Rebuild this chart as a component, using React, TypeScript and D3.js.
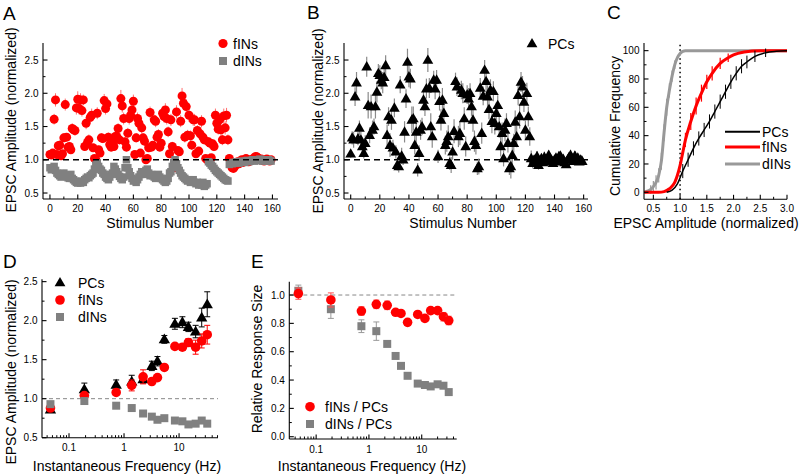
import React from "react";
import * as d3 from "d3";

const FONT = "'Liberation Sans', Arial, Helvetica, sans-serif";
const RED = "#ff0000";
const GRAY = "#808080";

// ---------- Panels A & B : stimulus series ----------
const stimulusNumber = d3.range(160);

const fINsA = [
  1.08, 1.07, 1.10, 1.61, 1.90, 1.08, 1.21, 1.22, 1.06, 1.09,
  1.33, 1.83, 1.34, 1.19, 1.20, 1.15, 1.47, 1.45, 1.44, 1.78,
  1.91, 1.77, 1.90, 1.74, 1.90, 1.20, 1.55, 1.26, 1.30, 1.64,
  1.67, 1.18, 1.02, 1.00, 1.70, 1.15, 1.10, 1.33, 1.32, 1.89,
  1.77, 1.84, 1.34, 1.23, 1.19, 1.25, 1.20, 1.35, 1.35, 1.47,
  1.30, 1.92, 1.81, 1.62, 1.27, 1.19, 1.40, 1.62, 1.67, 1.75,
  1.88, 1.08, 1.33, 1.62, 1.55, 1.10, 1.48, 1.33, 1.28, 1.00,
  1.02, 1.18, 1.71, 1.19, 1.22, 1.60, 1.58, 1.34, 1.38, 1.19,
  1.25, 1.70, 1.65, 1.75, 1.62, 1.42, 1.09, 1.60, 1.20, 0.90,
  0.88, 1.72, 1.14, 1.12, 1.58, 1.96, 1.85, 1.34, 1.80, 1.37,
  1.67, 1.36, 1.22, 1.60, 1.60, 1.09, 1.44, 1.13, 1.39, 1.58,
  1.34, 1.30, 1.02, 1.00, 1.27, 1.25, 1.03, 1.24, 1.20, 1.67,
  1.55, 1.46, 1.60, 1.45, 1.30, 1.66, 1.48, 1.67, 1.30, 1.02,
  0.93, 0.88, 0.87, 0.90, 0.95, 0.97, 0.94, 0.98, 1.00, 0.96,
  0.99, 1.02, 0.98, 0.97, 1.00, 0.99, 1.01, 1.03, 1.05, 1.04,
  1.02, 1.00, 1.01, 0.99, 0.98, 1.00, 1.01, 0.99, 0.98, 1.00,
];
const fINsAErr = [
  0.05, 0.04, 0.06, 0.08, 0.10, 0.05, 0.06, 0.07, 0.05, 0.05,
  0.07, 0.09, 0.06, 0.06, 0.07, 0.06, 0.08, 0.07, 0.08, 0.10,
  0.12, 0.09, 0.10, 0.09, 0.08, 0.06, 0.09, 0.07, 0.08, 0.09,
  0.10, 0.06, 0.05, 0.05, 0.09, 0.06, 0.05, 0.07, 0.07, 0.10,
  0.09, 0.11, 0.07, 0.06, 0.06, 0.07, 0.06, 0.08, 0.07, 0.08,
  0.07, 0.13, 0.10, 0.09, 0.07, 0.06, 0.08, 0.09, 0.10, 0.09,
  0.10, 0.05, 0.07, 0.09, 0.08, 0.05, 0.08, 0.07, 0.07, 0.05,
  0.05, 0.06, 0.09, 0.06, 0.06, 0.08, 0.09, 0.07, 0.08, 0.06,
  0.07, 0.10, 0.09, 0.10, 0.09, 0.08, 0.05, 0.09, 0.07, 0.05,
  0.05, 0.10, 0.06, 0.06, 0.09, 0.12, 0.10, 0.08, 0.11, 0.08,
  0.10, 0.08, 0.07, 0.09, 0.09, 0.05, 0.08, 0.06, 0.08, 0.09,
  0.08, 0.07, 0.05, 0.05, 0.07, 0.08, 0.05, 0.07, 0.07, 0.10,
  0.09, 0.08, 0.10, 0.09, 0.08, 0.11, 0.10, 0.11, 0.08, 0.06,
  0.05, 0.05, 0.04, 0.04, 0.05, 0.04, 0.04, 0.05, 0.04, 0.04,
  0.05, 0.04, 0.04, 0.05, 0.04, 0.04, 0.05, 0.04, 0.05, 0.04,
  0.04, 0.05, 0.04, 0.04, 0.05, 0.04, 0.04, 0.05, 0.04, 0.04,
];
const dINsA = [
  0.88, 0.85, 0.86, 0.90, 0.84, 0.80, 0.78, 0.76, 0.74, 0.78,
  0.80, 0.76, 0.75, 0.73, 0.72, 0.78, 0.72, 0.70, 0.68, 0.66,
  0.65, 0.67, 0.65, 0.68, 0.66, 0.70, 0.72, 0.74, 0.73, 0.76,
  0.78, 0.80, 0.86, 0.92, 0.95, 0.90, 0.86, 0.84, 0.80, 0.78,
  0.74, 0.72, 0.70, 0.74, 0.78, 0.80, 0.90, 0.86, 0.82, 0.78,
  0.75, 0.72, 0.70, 0.74, 0.88, 1.00, 0.88, 0.82, 0.76, 0.72,
  0.68, 0.70, 0.66, 0.70, 0.74, 0.78, 0.82, 0.80, 0.78, 0.84,
  0.86, 0.80, 0.76, 0.78, 0.76, 0.74, 0.72, 0.76, 0.78, 0.74,
  0.72, 0.70, 0.68, 0.66, 0.68, 0.72, 0.80, 0.82, 0.90, 0.96,
  1.00, 0.94, 0.88, 0.84, 0.80, 0.76, 0.74, 0.72, 0.70, 0.68,
  0.70, 0.66, 0.68, 0.70, 0.66, 0.64, 0.66, 0.62, 0.64, 0.62,
  0.66, 0.60, 0.62, 0.64, 0.97, 0.95, 0.92, 0.90, 0.87, 0.84,
  0.82, 0.80, 0.78, 0.76, 0.74, 0.72, 0.70, 0.69, 0.68, 0.93,
  0.95, 0.94, 0.96, 0.95, 0.97, 0.96, 0.95, 0.97, 0.98, 0.97,
  0.96, 0.98, 0.99, 0.97, 0.98, 0.99, 1.00, 0.98, 0.99, 1.00,
  0.99, 1.01, 0.99, 0.98, 1.00, 0.99, 0.98, 1.00, 0.99, 0.98,
];
const dINsAErr = [
  0.04, 0.04, 0.05, 0.04, 0.04, 0.05, 0.04, 0.05, 0.04, 0.04,
  0.05, 0.04, 0.05, 0.04, 0.05, 0.05, 0.04, 0.05, 0.05, 0.04,
  0.05, 0.04, 0.05, 0.05, 0.04, 0.05, 0.04, 0.05, 0.04, 0.05,
  0.04, 0.05, 0.05, 0.04, 0.05, 0.04, 0.05, 0.04, 0.05, 0.04,
  0.05, 0.04, 0.05, 0.04, 0.05, 0.04, 0.05, 0.04, 0.05, 0.05,
  0.04, 0.05, 0.04, 0.05, 0.05, 0.04, 0.05, 0.04, 0.05, 0.04,
  0.05, 0.04, 0.05, 0.05, 0.04, 0.05, 0.04, 0.05, 0.04, 0.05,
  0.04, 0.05, 0.04, 0.05, 0.04, 0.05, 0.05, 0.04, 0.05, 0.04,
  0.05, 0.04, 0.05, 0.04, 0.05, 0.05, 0.04, 0.05, 0.04, 0.05,
  0.04, 0.05, 0.04, 0.05, 0.04, 0.05, 0.04, 0.05, 0.05, 0.04,
  0.05, 0.04, 0.05, 0.04, 0.05, 0.04, 0.05, 0.05, 0.04, 0.05,
  0.04, 0.05, 0.05, 0.04, 0.05, 0.04, 0.05, 0.04, 0.05, 0.04,
  0.05, 0.04, 0.05, 0.04, 0.05, 0.05, 0.04, 0.05, 0.04, 0.04,
  0.03, 0.04, 0.03, 0.03, 0.04, 0.03, 0.03, 0.04, 0.03, 0.03,
  0.04, 0.03, 0.03, 0.04, 0.03, 0.03, 0.04, 0.03, 0.03, 0.04,
  0.03, 0.03, 0.04, 0.03, 0.03, 0.04, 0.03, 0.03, 0.04, 0.03,
];
const PCsB = [
  1.09, 1.33, 1.30, 1.95, 2.16, 1.32, 1.48, 1.30, 1.20, 1.10,
  1.25, 2.40, 1.82, 1.37, 1.80, 1.45, 1.50, 1.80, 2.02, 2.30,
  2.27, 2.20, 2.16, 2.24, 2.42, 1.37, 1.65, 1.22, 1.60, 1.18,
  1.78, 1.12, 0.92, 0.90, 2.13, 1.06, 1.00, 1.42, 1.92, 2.47,
  2.25, 2.22, 1.60, 1.62, 1.22, 1.42, 0.85, 1.10, 1.45, 1.50,
  1.90, 1.80, 2.07, 2.50, 2.08, 1.50, 1.35, 2.20, 2.07, 2.20,
  1.05, 1.88, 1.60, 1.90, 1.70, 1.22, 1.28, 1.35, 0.95, 0.92,
  1.12, 1.43, 2.18, 2.10, 1.35, 1.40, 2.05, 2.00, 1.62, 1.20,
  1.98, 1.92, 2.00, 1.80, 1.60, 1.28, 1.22, 0.87, 0.90, 2.08,
  1.40, 1.96, 2.35, 2.18, 1.95, 1.76, 2.05, 1.58, 2.03, 1.55,
  1.70, 1.82, 1.50, 1.20, 1.40, 1.02, 1.45, 1.55, 1.25, 0.87,
  0.90, 1.07, 1.25, 1.57, 1.35, 1.97, 1.65, 2.17, 2.10, 1.87,
  1.45, 2.00, 1.65, 1.35, 1.02, 0.95, 1.00, 0.97, 1.05, 0.92,
  0.98, 1.02, 0.96, 1.04, 1.00, 0.97, 1.07, 1.02, 0.99, 0.95,
  1.00, 1.03, 0.98, 1.05, 1.06, 0.97, 1.01, 0.96, 0.93, 1.00,
  1.04, 1.07, 1.02, 0.98, 1.06, 0.99, 1.03, 0.97, 1.00, 0.98,
];
const PCsBErr = [
  0.06, 0.10, 0.12, 0.14, 0.16, 0.10, 0.11, 0.12, 0.10, 0.08,
  0.12, 0.15, 0.20, 0.12, 0.18, 0.14, 0.12, 0.18, 0.16, 0.14,
  0.15, 0.14, 0.16, 0.13, 0.15, 0.16, 0.14, 0.18, 0.15, 0.12,
  0.14, 0.10, 0.08, 0.09, 0.13, 0.12, 0.08, 0.16, 0.14, 0.20,
  0.16, 0.15, 0.20, 0.18, 0.14, 0.20, 0.10, 0.12, 0.15, 0.13,
  0.16, 0.14, 0.15, 0.18, 0.15, 0.20, 0.17, 0.14, 0.16, 0.15,
  0.10, 0.14, 0.16, 0.18, 0.15, 0.14, 0.16, 0.17, 0.10, 0.12,
  0.12, 0.18, 0.13, 0.14, 0.16, 0.18, 0.14, 0.15, 0.17, 0.15,
  0.14, 0.16, 0.15, 0.14, 0.18, 0.16, 0.14, 0.10, 0.12, 0.15,
  0.16, 0.14, 0.15, 0.16, 0.17, 0.15, 0.16, 0.18, 0.15, 0.17,
  0.16, 0.15, 0.17, 0.15, 0.16, 0.12, 0.17, 0.15, 0.14, 0.10,
  0.18, 0.15, 0.14, 0.17, 0.16, 0.15, 0.18, 0.15, 0.16, 0.15,
  0.14, 0.16, 0.15, 0.14, 0.12, 0.08, 0.07, 0.06, 0.08, 0.07,
  0.06, 0.07, 0.05, 0.08, 0.06, 0.05, 0.07, 0.06, 0.05, 0.06,
  0.07, 0.06, 0.05, 0.07, 0.06, 0.05, 0.06, 0.07, 0.05, 0.06,
  0.06, 0.08, 0.05, 0.06, 0.07, 0.05, 0.06, 0.05, 0.07, 0.06,
];

// ---------- Panel C : cumulative distributions ----------
const cPCsX = [0.75, 0.85, 0.95, 1.05, 1.15, 1.25, 1.35, 1.45, 1.55, 1.65, 1.75, 1.85, 1.95, 2.05, 2.15, 2.25, 2.4, 2.6, 2.8, 3.0];
const cPCsY = [0, 1.5, 6, 15, 23, 31, 38, 44, 50, 57, 64, 71, 78, 84, 89, 92, 96, 98.5, 99.5, 100];
const cPCsErr = [0, 0, 0, 5, 5, 5, 5, 5, 5, 5, 5, 5, 5, 5, 5, 4.5, 4, 3, 0, 0];
const cFINsX = [0.33, 0.6, 0.7, 0.8, 0.9, 0.95, 1.0, 1.05, 1.1, 1.2, 1.3, 1.4, 1.5, 1.6, 1.75, 1.9, 2.0, 2.2, 2.5, 3.0];
const cFINsY = [0, 0, 0.5, 2.5, 7, 12, 19, 28, 37, 50, 61, 70, 78, 84, 91, 95, 97, 99, 100, 100];
const cFINsErr = [0, 0, 0, 0, 0, 0, 0, 0, 5, 6, 6, 6, 5, 5, 4, 3, 0, 0, 0, 0];
const cDINsX = [0.33, 0.4, 0.45, 0.5, 0.55, 0.6, 0.65, 0.7, 0.75, 0.8, 0.85, 0.9, 0.95, 1.0, 1.05, 1.1, 1.2, 3.0];
const cDINsY = [0, 1, 2, 4, 7, 12, 22, 42, 60, 72, 82, 90, 95, 98, 99.5, 100, 100, 100];
const cDINsErr = [0, 0, 3, 4, 5, 5, 6, 6, 6, 5, 4, 3, 0, 0, 0, 0, 0, 0];

// ---------- Panels D & E : instantaneous frequency ----------
const instFreq = [0.046, 0.19, 0.72, 1.38, 2.22, 3.2, 4.05, 5.4, 8.4, 11.5, 14.8, 20, 25.8, 32.5];
const dPCs = [0.86, 1.12, 1.18, 1.22, 1.25, 1.42, 1.48, 1.76, 1.96, 1.98, 1.92, 1.86, 2.04, 2.21];
const dPCsErr = [0.02, 0.08, 0.06, 0.08, 0.05, 0.06, 0.06, 0.05, 0.07, 0.07, 0.06, 0.08, 0.12, 0.16];
const dFINs = [0.88, 1.04, 1.08, 1.17, 1.28, 1.22, 1.27, 1.40, 1.67, 1.66, 1.72, 1.66, 1.74, 1.82];
const dFINsErr = [0.02, 0.03, 0.03, 0.07, 0.09, 0.03, 0.03, 0.03, 0.03, 0.04, 0.05, 0.09, 0.09, 0.12];
const dDINs = [0.93, 0.97, 0.91, 0.88, 0.81, 0.77, 0.73, 0.75, 0.72, 0.71, 0.67, 0.68, 0.72, 0.68];
const dDINsErr = [0.02, 0.02, 0.02, 0.02, 0.02, 0.02, 0.02, 0.02, 0.02, 0.02, 0.02, 0.02, 0.02, 0.02];
const eFINsPCs = [1.01, 0.965, 0.887, 0.934, 0.927, 0.878, 0.87, 0.807, 0.863, 0.835, 0.89, 0.89, 0.847, 0.82];
const eFINsPCsErr = [0.04, 0.05, 0.03, 0.03, 0.03, 0.02, 0.02, 0.015, 0.02, 0.02, 0.02, 0.02, 0.03, 0.03];
const eDINsPCs = [1.03, 0.90, 0.78, 0.745, 0.655, 0.57, 0.50, 0.43, 0.375, 0.365, 0.355, 0.37, 0.36, 0.315];
const eDINsPCsErr = [0.04, 0.065, 0.045, 0.065, 0.015, 0.015, 0.015, 0.01, 0.01, 0.01, 0.01, 0.01, 0.01, 0.01];

// ---------- tick labels ----------
const stimTicks = [0, 20, 40, 60, 80, 100, 120, 140, 160];
const stimMinor = [10, 30, 50, 70, 90, 110, 130, 150];
const ampTicks = [0.5, 1.0, 1.5, 2.0, 2.5];
const ampMinor = [0.75, 1.25, 1.75, 2.25];
const cumXTicks = [0.5, 1.0, 1.5, 2.0, 2.5, 3.0];
const cumXMinor = [0.75, 1.25, 1.75, 2.25, 2.75];
const cumYTicks = [0, 20, 40, 60, 80, 100];
const cumYMinor = [10, 30, 50, 70, 90];
const freqTicks = [0.1, 1, 10];
const freqTickLabels = ["0.1", "1", "10"];
const relTicks = [0.0, 0.2, 0.4, 0.6, 0.8, 1.0];
const relMinor = [0.1, 0.3, 0.5, 0.7, 0.9];

// ---------- scales ----------
const xA = d3.scaleLinear().domain([-5, 164]).range([43, 278]);
const yA = d3.scaleLinear().domain([0.41, 2.756]).range([199, 43]);
const xB = d3.scaleLinear().domain([-4.6, 163]).range([344, 588]);
const yB = d3.scaleLinear().domain([0.41, 2.756]).range([199, 43]);
const xC = d3.scaleLinear().domain([0.325, 3.0]).range([644, 787]);
const yC = d3.scaleLinear().domain([-4.94, 105.4]).range([199.3, 43]);
const xD = d3.scaleLog().domain([0.0323, 51]).range([42, 218]);
const yD = d3.scaleLinear().domain([0.5, 2.53]).range([437.7, 279.3]);
const xE = d3.scaleLog().domain([0.031, 46]).range([289.3, 456.7]);
const yE = d3.scaleLinear().domain([-0.016, 1.094]).range([439, 281.7]);

function logMinor(domain: number[]) {
  const out: number[] = [];
  [0.01, 0.1, 1, 10].forEach((dec) => {
    for (let k = 2; k <= 9; k++) {
      const v = k * dec;
      if (v >= domain[0] && v <= domain[1]) out.push(v);
    }
  });
  return out;
}

const TICK_FS = 10;

function AxisLeft({ scale, x, major, minor, fmt }: any) {
  const [y0, y1] = scale.range();
  return (
    <g>
      <line x1={x} x2={x} y1={y0} y2={y1} stroke="#000" strokeWidth={1.1} />
      {minor.map((v: number, i: number) => (
        <line key={"m" + i} x1={x} x2={x + 2.5} y1={scale(v)} y2={scale(v)} stroke="#000" strokeWidth={1} />
      ))}
      {major.map((v: number, i: number) => (
        <g key={i}>
          <line x1={x} x2={x + 4.5} y1={scale(v)} y2={scale(v)} stroke="#000" strokeWidth={1.1} />
          <text x={x - 4.5} y={scale(v)} dy="0.36em" textAnchor="end" fontSize={TICK_FS}>
            {fmt(v, i)}
          </text>
        </g>
      ))}
    </g>
  );
}

function AxisBottom({ scale, y, major, minor, fmt, labelDy = 13 }: any) {
  const [x0, x1] = scale.range();
  return (
    <g>
      <line x1={x0} x2={x1} y1={y} y2={y} stroke="#000" strokeWidth={1.1} />
      {minor.map((v: number, i: number) => (
        <line key={"m" + i} x1={scale(v)} x2={scale(v)} y1={y} y2={y - 2.5} stroke="#000" strokeWidth={1} />
      ))}
      {major.map((v: number, i: number) => (
        <g key={i}>
          <line x1={scale(v)} x2={scale(v)} y1={y} y2={y - 4.5} stroke="#000" strokeWidth={1.1} />
          <text x={scale(v)} y={y + labelDy} textAnchor="middle" fontSize={TICK_FS}>
            {fmt(v, i)}
          </text>
        </g>
      ))}
    </g>
  );
}

const tri = (cx: number, cy: number, s = 1) =>
  `M${cx},${cy - 5.6 * s}L${cx + 5.4 * s},${cy + 3.8 * s}L${cx - 5.4 * s},${cy + 3.8 * s}Z`;

function Circle({ cx, cy, r = 4.6, fill = RED }: any) {
  return <circle cx={cx} cy={cy} r={r} fill={fill} />;
}
function Square({ cx, cy, s = 8, fill = GRAY }: any) {
  return <rect x={cx - s / 2} y={cy - s / 2} width={s} height={s} fill={fill} />;
}

function ErrBar({ x, y1, y2, color, w = 1, cap = 0 }: any) {
  return (
    <g>
      <line x1={x} x2={x} y1={y1} y2={y2} stroke={color} strokeWidth={w} />
      {cap > 0 && (
        <>
          <line x1={x - cap} x2={x + cap} y1={y1} y2={y1} stroke={color} strokeWidth={w} />
          <line x1={x - cap} x2={x + cap} y1={y2} y2={y2} stroke={color} strokeWidth={w} />
        </>
      )}
    </g>
  );
}

const fmt1 = (v: number) => v.toFixed(1);
const fmt0 = (v: number) => String(v);

export default function App() {
  const lineC = (xs: number[], ys: number[]) =>
    d3
      .line<number>()
      .x((_, i) => xC(xs[i]))
      .y((_, i) => yC(ys[i]))
      .curve(d3.curveMonotoneX)(xs) as string;

  const dMinor = logMinor(xD.domain());
  const eMinor = logMinor(xE.domain());

  return (
    <svg
      width={800}
      height={475}
      style={{ position: "absolute", left: 0, top: 0, background: "#fff" }}
      fontFamily={FONT}
    >
      <rect x={0} y={0} width={800} height={475} fill="#fff" />

      {/* ================= Panel A ================= */}
      <text x={3} y={20} fontSize={19}>A</text>
      {stimulusNumber.map((s, i) => (
        <line key={"ae" + i} x1={xA(s)} x2={xA(s)} y1={yA(fINsA[i] - fINsAErr[i])} y2={yA(fINsA[i] + fINsAErr[i])} stroke="#ff7070" strokeWidth={1} />
      ))}
      {stimulusNumber.map((s, i) => (
        <Circle key={"ac" + i} cx={xA(s)} cy={yA(fINsA[i])} r={4.5} />
      ))}
      {stimulusNumber.map((s, i) => (
        <line key={"ade" + i} x1={xA(s)} x2={xA(s)} y1={yA(dINsA[i] - dINsAErr[i])} y2={yA(dINsA[i] + dINsAErr[i])} stroke="#a8a8a8" strokeWidth={1} />
      ))}
      {stimulusNumber.map((s, i) => (
        <Square key={"as" + i} cx={xA(s)} cy={yA(dINsA[i])} s={7.5} />
      ))}
      <line x1={43} x2={278} y1={yA(1)} y2={yA(1)} stroke="#000" strokeWidth={1.6} strokeDasharray="6,4" />
      <AxisLeft scale={yA} x={43} major={ampTicks} minor={ampMinor} fmt={fmt1} />
      <AxisBottom scale={xA} y={199} major={stimTicks} minor={stimMinor} fmt={fmt0} />
      <text x={160} y={228} textAnchor="middle" fontSize={14}>Stimulus Number</text>
      <text transform="translate(16,120) rotate(-90)" textAnchor="middle" fontSize={14}>EPSC Amplitude (normalized)</text>
      <Circle cx={223} cy={43.5} r={4.6} />
      <text x={233} y={43.5} dy="0.36em" fontSize={14}>fINs</text>
      <Square cx={223} cy={61} s={8} />
      <text x={233} y={61} dy="0.36em" fontSize={14}>dINs</text>

      {/* ================= Panel B ================= */}
      <text x={307} y={19} fontSize={19}>B</text>
      <line x1={344} x2={588} y1={yB(1)} y2={yB(1)} stroke="#000" strokeWidth={1.6} strokeDasharray="6,4" />
      {stimulusNumber.map((s, i) => (
        <line key={"be" + i} x1={xB(s)} x2={xB(s)} y1={yB(PCsB[i] - PCsBErr[i])} y2={yB(PCsB[i] + PCsBErr[i])} stroke="#8a8a8a" strokeWidth={1.2} />
      ))}
      {stimulusNumber.map((s, i) => (
        <path key={"bt" + i} d={tri(xB(s), yB(PCsB[i]))} fill="#000" />
      ))}
      <AxisLeft scale={yB} x={344} major={ampTicks} minor={ampMinor} fmt={fmt1} />
      <AxisBottom scale={xB} y={199} major={stimTicks} minor={stimMinor} fmt={fmt0} />
      <text x={463} y={228} textAnchor="middle" fontSize={14}>Stimulus Number</text>
      <text transform="translate(323,121) rotate(-90)" textAnchor="middle" fontSize={14}>EPSC Amplitude (normalized)</text>
      <path d={tri(532, 43.5)} fill="#000" />
      <text x={548} y={43.5} dy="0.36em" fontSize={14}>PCs</text>

      {/* ================= Panel C ================= */}
      <text x={607} y={19} fontSize={19}>C</text>
      <line x1={xC(1)} x2={xC(1)} y1={199.3} y2={43} stroke="#000" strokeWidth={1.5} strokeDasharray="1.5,3" />
      <path d={lineC(cDINsX, cDINsY)} fill="none" stroke="#999" strokeWidth={3} />
      {cDINsX.map((x, i) =>
        cDINsErr[i] > 0 ? (
          <line key={"cde" + i} x1={xC(x)} x2={xC(x)} y1={yC(cDINsY[i] - cDINsErr[i])} y2={yC(cDINsY[i] + cDINsErr[i])} stroke="#999" strokeWidth={1.2} />
        ) : null
      )}
      <path d={lineC(cFINsX, cFINsY)} fill="none" stroke={RED} strokeWidth={3} />
      {cFINsX.map((x, i) =>
        cFINsErr[i] > 0 ? (
          <line key={"cfe" + i} x1={xC(x)} x2={xC(x)} y1={yC(cFINsY[i] - cFINsErr[i])} y2={yC(cFINsY[i] + cFINsErr[i])} stroke={RED} strokeWidth={1.2} />
        ) : null
      )}
      <path d={lineC(cPCsX, cPCsY)} fill="none" stroke="#000" strokeWidth={1.5} />
      {cPCsX.map((x, i) =>
        cPCsErr[i] > 0 ? (
          <line key={"cpe" + i} x1={xC(x)} x2={xC(x)} y1={yC(cPCsY[i] - cPCsErr[i])} y2={yC(cPCsY[i] + cPCsErr[i])} stroke="#000" strokeWidth={1} />
        ) : null
      )}
      <AxisLeft scale={yC} x={644} major={cumYTicks} minor={cumYMinor} fmt={fmt0} />
      <AxisBottom scale={xC} y={199.3} major={cumXTicks} minor={cumXMinor} fmt={fmt1} />
      <text x={706} y={228} textAnchor="middle" fontSize={14}>EPSC Amplitude (normalized)</text>
      <text transform="translate(620,126) rotate(-90)" textAnchor="middle" fontSize={14}>Cumulative Frequency</text>
      <line x1={725} x2={760} y1={131.7} y2={131.7} stroke="#000" strokeWidth={2} />
      <text x={762} y={131.7} dy="0.36em" fontSize={14}>PCs</text>
      <line x1={725} x2={760} y1={147} y2={147} stroke={RED} strokeWidth={3} />
      <text x={762} y={147} dy="0.36em" fontSize={14}>fINs</text>
      <line x1={725} x2={760} y1={164} y2={164} stroke="#999" strokeWidth={3} />
      <text x={762} y={164} dy="0.36em" fontSize={14}>dINs</text>

      {/* ================= Panel D ================= */}
      <text x={3} y={268} fontSize={19}>D</text>
      <line x1={42} x2={218} y1={yD(1)} y2={yD(1)} stroke="#888" strokeWidth={1} strokeDasharray="4,3" />
      {instFreq.map((f, i) => (
        <g key={"dp" + i}>
          <ErrBar x={xD(f)} y1={yD(dPCs[i] - dPCsErr[i])} y2={yD(dPCs[i] + dPCsErr[i])} color="#000" cap={3} />
          <path d={tri(xD(f), yD(dPCs[i]), 1.05)} fill="#000" />
        </g>
      ))}
      {instFreq.map((f, i) => (
        <g key={"df" + i}>
          <ErrBar x={xD(f)} y1={yD(dFINs[i] - dFINsErr[i])} y2={yD(dFINs[i] + dFINsErr[i])} color={RED} cap={3} />
          <Circle cx={xD(f)} cy={yD(dFINs[i])} r={4.8} />
        </g>
      ))}
      {instFreq.map((f, i) => (
        <g key={"dd" + i}>
          <ErrBar x={xD(f)} y1={yD(dDINs[i] - dDINsErr[i])} y2={yD(dDINs[i] + dDINsErr[i])} color={GRAY} cap={3} />
          <Square cx={xD(f)} cy={yD(dDINs[i])} s={8} />
        </g>
      ))}
      <AxisLeft scale={yD} x={42} major={ampTicks} minor={ampMinor} fmt={fmt1} />
      <AxisBottom scale={xD} y={437.7} major={freqTicks} minor={dMinor} fmt={(v: number, i: number) => freqTickLabels[i]} labelDy={13} />
      <text x={127} y={471} textAnchor="middle" fontSize={14}>Instantaneous Frequency (Hz)</text>
      <text transform="translate(16,372) rotate(-90)" textAnchor="middle" fontSize={14}>EPSC Amplitude (normalized)</text>
      <path d={tri(60, 282.5)} fill="#000" />
      <text x={78} y={282.5} dy="0.36em" fontSize={14}>PCs</text>
      <Circle cx={60} cy={300} r={4.8} />
      <text x={78} y={300} dy="0.36em" fontSize={14}>fINs</text>
      <Square cx={60} cy={317} s={8} />
      <text x={78} y={317} dy="0.36em" fontSize={14}>dINs</text>

      {/* ================= Panel E ================= */}
      <text x={251} y={268} fontSize={19}>E</text>
      <line x1={289.3} x2={456.7} y1={yE(1)} y2={yE(1)} stroke="#888" strokeWidth={1} strokeDasharray="4,3" />
      {instFreq.map((f, i) => (
        <g key={"ed" + i}>
          <ErrBar x={xE(f)} y1={yE(eDINsPCs[i] - eDINsPCsErr[i])} y2={yE(eDINsPCs[i] + eDINsPCsErr[i])} color="#999" cap={3} />
          <Square cx={xE(f)} cy={yE(eDINsPCs[i])} s={8} />
        </g>
      ))}
      {instFreq.map((f, i) => (
        <g key={"ef" + i}>
          <ErrBar x={xE(f)} y1={yE(eFINsPCs[i] - eFINsPCsErr[i])} y2={yE(eFINsPCs[i] + eFINsPCsErr[i])} color="#ff5050" cap={3} />
          <Circle cx={xE(f)} cy={yE(eFINsPCs[i])} r={4.8} />
        </g>
      ))}
      <AxisLeft scale={yE} x={289.3} major={relTicks} minor={relMinor} fmt={fmt1} />
      <AxisBottom scale={xE} y={439} major={freqTicks} minor={eMinor} fmt={(v: number, i: number) => freqTickLabels[i]} labelDy={13.5} />
      <text x={372} y={471} textAnchor="middle" fontSize={14}>Instantaneous Frequency (Hz)</text>
      <text transform="translate(262,359) rotate(-90)" textAnchor="middle" fontSize={14}>Relative Response Size</text>
      <Circle cx={310} cy={406.7} r={4.8} />
      <text x={325} y={406.7} dy="0.36em" fontSize={14}>fINs / PCs</text>
      <Square cx={310} cy={424} s={8} />
      <text x={325} y={424} dy="0.36em" fontSize={14}>dINs / PCs</text>
    </svg>
  );
}
